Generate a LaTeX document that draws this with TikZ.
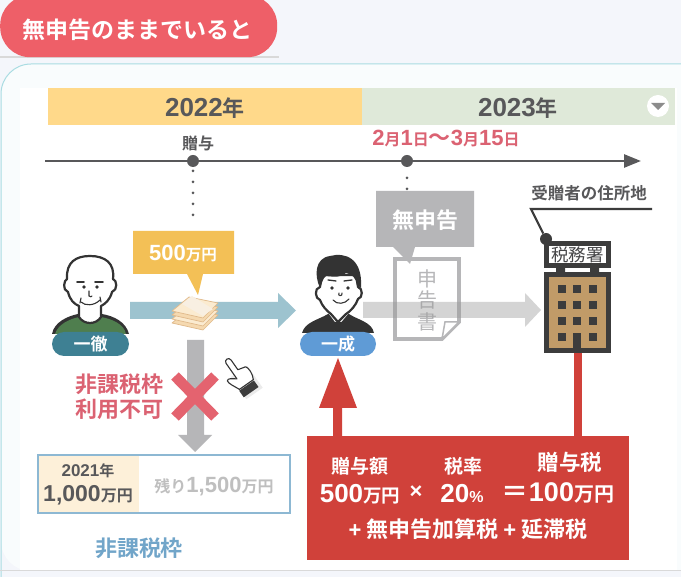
\documentclass[tikz,border=0pt]{standalone}
\usepackage{fontspec}
\setmainfont{Noto Sans CJK JP}[BoldFont={Noto Sans CJK JP Bold}]
\newfontfamily\dg{Liberation Sans}
\usetikzlibrary{arrows.meta,shapes.geometric}
\definecolor{pagebg}{HTML}{F4F6FB}
\definecolor{cardbg}{HTML}{F9FCFD}
\definecolor{cardline}{HTML}{A9DCE2}
\definecolor{pill}{HTML}{EE5F68}
\definecolor{yband}{HTML}{FFD98A}
\definecolor{gband}{HTML}{DFE9D9}
\definecolor{dk}{HTML}{58585A}
\definecolor{rosetxt}{HTML}{DB6272}
\definecolor{callY}{HTML}{F3C056}
\definecolor{callG}{HTML}{B6B6B8}
\definecolor{teal1}{HTML}{9DC3CF}
\definecolor{boxblue}{HTML}{8DB8D3}
\definecolor{txtblue}{HTML}{71A5C9}
\definecolor{cream}{HTML}{FDF0D9}
\definecolor{redbox}{HTML}{D0413A}
\definecolor{xred}{HTML}{E4636F}
\definecolor{darkline}{HTML}{333333}
\definecolor{bld}{HTML}{C19B68}
\definecolor{bldk}{HTML}{3C3C3C}
\definecolor{shirt}{HTML}{4F7E4E}
\definecolor{ikpill}{HTML}{3E8093}
\definecolor{ispill}{HTML}{5F9BD6}
\definecolor{moneyA}{HTML}{F5D9B0}
\definecolor{moneyB}{HTML}{FBEBD0}
\definecolor{moneyL}{HTML}{E0B98A}
\definecolor{moneyC}{HTML}{F8EFE2}
\newcommand{\fz}[1]{\fontsize{#1}{#1}\selectfont}
\tikzset{
  lbl/.style={inner sep=0pt,font=\bfseries,text=dk},
  whitetxt/.style={inner sep=0pt,font=\bfseries,text=white},
  band/.style={inner sep=0pt,minimum height=37pt,anchor=north west},
  tick/.style={circle,fill=dk,inner sep=0pt,minimum size=12pt},
  dotty/.style={draw=dk,line width=3pt,line cap=round,dash pattern=on 0pt off 11pt},
  person/.style={draw=darkline,line width=2.2pt,fill=white,line join=round},
  face/.style={draw=darkline,line width=1.1pt,line cap=round},
  money/.style={draw=moneyL,line width=.7pt,line join=round},
}
\begin{document}
\begin{tikzpicture}[x=1pt,y=-1pt]
\useasboundingbox (0,0) rectangle (681,577);
% backgrounds
\fill[pagebg] (0,0) rectangle (681,577);
\fill[cardbg,rounded corners=30pt] (1,64) rectangle (720,571);
\draw[cardline,line width=1pt,rounded corners=30pt] (1,620) -- (1,64) -- (720,64);
\fill[white] (20,88) rectangle (677,570);
\draw[black!15,line width=1pt] (0,571) -- (681,571);
\fill[black!15] (0,56) rectangle (279,58);
% title
\node[fill=pill,rounded corners=30pt,minimum width=277pt,minimum height=62pt,anchor=north west,inner sep=0pt] (title) at (0,-5) {};
\node[whitetxt,font=\bfseries\fz{23}] (titletext) at (138,30) {無申告のままでいると};
% bands
\node[band,fill=yband,minimum width=314pt] (y22) at (48,88) {};
\node[band,fill=gband,minimum width=313pt] (y23) at (362,88) {};
\node[lbl,font=\bfseries\fz{26}] (y22t) at (205,108) {{\dg 2022}{\fz{22}年}};
\node[lbl,font=\bfseries\fz{26}] (y23t) at (518,108) {{\dg 2023}{\fz{22}年}};
\node[circle,fill=white,minimum size=22pt,inner sep=0pt] (menu) at (658,106) {};
\fill[black!45] (651,103) -- (665,103) -- (658,110) -- cycle;
% timeline
\coordinate (tlS) at (45,161);
\coordinate (tlE) at (641,161);
\draw[dk,line width=2.6pt,-{Triangle[length=17pt,width=13pt]}] (tlS) -- (tlE);
\node[tick] (t1) at (193,161) {};
\node[tick] (t2) at (407,161) {};
\node[lbl,font=\bfseries\fz{16}] (zoyo) at (198,143) {贈与};
\node[inner sep=0pt,font=\bfseries\fz{22},text=rosetxt] (dates) at (446,139) {{\dg 2}{\fz{16}月}{\dg 1}{\fz{16}日}〜{\dg 3}{\fz{16}月}{\dg 15}{\fz{16}日}};
\coordinate (d1) at (193,171);
\coordinate (d1e) at (193,226);
\coordinate (d2) at (407,178);
\coordinate (d2e) at (407,190);
\draw[dotty] (d1) -- (d1e);
\draw[dotty] (d2) -- (d2e);
% blue arrow
\fill[teal1] (130,302) -- (278,302) -- (278,293) -- (296,310.5) -- (278,328) -- (278,319) -- (130,319) -- cycle;
% yellow callout
\fill[callY] (133,231) -- (234,231) -- (234,274) -- (203,274) -- (198,295) -- (187,274) -- (133,274) -- cycle;
\node[whitetxt,font=\bfseries\fz{22}] (amt) at (183,254) {{\dg 500}{\fz{15.5}万円}};
% money
\filldraw[money,fill=moneyA] (172,323) -- (189,309) -- (218,315) -- (203,330) -- cycle;
\filldraw[money,fill=moneyB] (172,319) -- (189,305) -- (218,311) -- (203,326) -- cycle;
\filldraw[money,fill=moneyA] (172,315) -- (189,301) -- (218,307) -- (203,322) -- cycle;
\filldraw[money,fill=moneyB] (172,311) -- (189,297) -- (218,303) -- (203,318) -- cycle;
\fill[moneyC] (182,304) -- (192,296) -- (213,309) -- (203,316) -- cycle;
% person 1
\fill[darkline] (52,334) .. controls (54,322) and (68,316) .. (78,314) -- (102,314) .. controls (114,316) and (126,322) .. (129,334) -- cycle;
\fill[shirt] (55,334) .. controls (58,324) and (70,319) .. (79,317) .. controls (84,326) and (96,326) .. (101,317) .. controls (112,319) and (124,324) .. (126,334) -- cycle;
\draw[person] (68,292) .. controls (62,290) and (64,280) .. (67,279) .. controls (66,262) and (76,256) .. (90,256) .. controls (105,256) and (115,263) .. (113,279) .. controls (117,280) and (118,290) .. (112,292) .. controls (110,300) and (105,304) .. (101,306) -- (101,317) .. controls (96,325) and (84,325) .. (79,317) -- (79,306) .. controls (74,304) and (70,300) .. (68,292) -- cycle;
\draw[face,line width=1.6pt] (77,282) -- (84,282);
\draw[face,line width=1.6pt] (95,282) -- (103,282);
\fill[darkline] (84,287) circle (1.8pt) (97,287) circle (1.8pt);
\draw[face] (89,291) -- (89,296) .. controls (90,297) and (92,297) .. (92,296);
\draw[face] (81,302) .. controls (85,306) and (94,306) .. (100,300);
\draw[face] (81,298) -- (80,303);
\draw[face] (100,297) -- (101,302);
\node[fill=ikpill,rounded corners=12pt,minimum width=77pt,minimum height=24pt,inner sep=0pt,text=white,font=\bfseries\fz{17}] (ikkan) at (90.5,344) {一徹};
% person 2
\fill[darkline] (302,333) .. controls (305,322) and (318,320) .. (328,314) -- (349,314) .. controls (358,320) and (372,322) .. (374,333) -- cycle;
\fill[white] (329,314) -- (338,326) -- (348,314) -- (346,306) -- (331,306) -- cycle;
\fill[darkline] (335,322) -- (342,322) -- (344,333) -- (333,333) -- cycle;
\draw[draw=darkline,line width=1.2pt] (328,318) -- (338,326) -- (349,318);
\draw[person] (320,287) .. controls (314,288) and (315,299) .. (320,300) .. controls (322,306) and (327,311) .. (331,314) -- (338,322) -- (346,314) .. controls (351,311) and (356,305) .. (358,299) .. controls (363,298) and (363,288) .. (358,287) -- (356,275) -- (322,275) -- cycle;
\fill[darkline] (320,288) .. controls (314,275) and (315,258) .. (330,256) .. controls (345,252) and (363,258) .. (361,288) -- (357,285) .. controls (356,278) and (352,274) .. (346,273) .. controls (338,279) and (330,276) .. (326,276) .. controls (323,278) and (322,283) .. (320,288) -- cycle;
\draw[face,line width=1.3pt] (328,280) -- (336,281);
\draw[face,line width=1.3pt] (344,281) -- (352,280);
\fill[darkline] (332,288) circle (1.9pt) (348,288) circle (1.9pt);
\draw[face] (339,293) .. controls (337,296) and (343,297) .. (342,293);
\draw[face] (333,300) .. controls (337,305) and (345,304) .. (349,299);
\node[fill=ispill,rounded corners=12pt,minimum width=76pt,minimum height=24pt,inner sep=0pt,text=white,font=\bfseries\fz{17}] (issei) at (338,344) {一成};
% document
\fill[white] (395,258) -- (459,258) -- (459,322) -- (442,339) -- (395,339) -- cycle;
\draw[callG,line width=3.6pt,line join=miter] (395,259) -- (459,259) -- (459,322) -- (442,339) -- (395,339) -- cycle;
\draw[callG,line width=1.5pt,fill=white] (459,322) -- (445,322) -- (442,339) -- cycle;
\node[inner sep=0pt,text=callG,font=\fz{20}] (s1) at (427,279) {申};
\node[inner sep=0pt,text=callG,font=\fz{20}] (s2) at (427,300) {告};
\node[inner sep=0pt,text=callG,font=\fz{20}] (s3) at (427,322) {書};
% grey arrow
\fill[black!40,opacity=.42] (363,302) -- (525,302) -- (525,293) -- (541,310) -- (525,327) -- (525,318) -- (363,318) -- cycle;
% grey callout
\fill[callG] (376,191) -- (474,191) -- (474,247) -- (415,247) -- (410,264) -- (393,247) -- (376,247) -- cycle;
\node[whitetxt,font=\bfseries\fz{22}] (mu) at (425,220) {無申告};
% building
\fill[redbox] (574,353) rectangle (582,437);
\node[anchor=north west,fill=bldk,minimum width=67pt,minimum height=27pt,inner sep=0pt] (sign) at (544,241) {};
\node[fill=white,minimum width=57pt,minimum height=17pt,inner sep=0pt,text=dk!80!black,font=\fz{17.5}] (signt) at (577.5,254.5) {税務署};
\fill[bldk] (556,268) rectangle (565,272) (590,268) rectangle (599,272);
\fill[bldk] (544,272) rectangle (611,353);
\fill[bld] (549,277) rectangle (606,348);
\foreach \yy in {289,305,321,337}{
  \fill[bldk] (558,{\yy-4}) rectangle +(8,8);
  \fill[bldk] (589,{\yy-4}) rectangle +(8,8);
}
\foreach \yy in {289,305,321}{\fill[bldk] (573,{\yy-4}) rectangle +(8,8);}
\fill[bldk] (573,333) rectangle (581,350);
% leader
\node[lbl,font=\bfseries\fz{16.5}] (addr) at (589,193) {受贈者の住所地};
\coordinate (la) at (652,209);
\coordinate (lb) at (531,209);
\node[tick,fill=bldk] (lc) at (546,239) {};
\draw[bldk,line width=2.2pt,line join=miter] (la) -- (lb) -- (lc);
% hand
\begin{scope}[shift={(240,378)},rotate=35]
\fill[black!8] (-7,-6) rectangle (13,21);
\draw[fill=white,draw=darkline,line width=1.1pt,line join=round] (-3,-20) .. controls (-3,-24) and (3,-24) .. (3,-20) -- (3,-8) -- (11,-6) .. controls (13,-4) and (13,4) .. (10,9) -- (-7,9) .. controls (-9,4) and (-13,-2) .. (-12,-5) .. controls (-10,-7) and (-7,-4) .. (-3,-1) -- cycle;
\fill[bldk] (-8,10) rectangle (10,18);
\end{scope}
% down arrow
\fill[callG] (187,340) -- (204,340) -- (204,435) -- (212,435) -- (195,452) -- (178,435) -- (187,435) -- cycle;
% X mark
\draw[xred,line width=10.5pt] (175,376) -- (215,417);
\draw[xred,line width=10.5pt] (215,376) -- (175,417);
\node[inner sep=0pt,text=rosetxt,font=\bfseries\fz{22}] (hk1) at (119,384) {非課税枠};
\node[inner sep=0pt,text=rosetxt,font=\bfseries\fz{22}] (hk2) at (119,409) {利用不可};
% allowance box
\fill[cream] (38,455) rectangle (139,513);
\draw[boxblue,line width=2.6pt] (38,455) rectangle (290,513);
\node[lbl,font=\bfseries\fz{17}] (yr21) at (88,471) {{\dg 2021}{\fz{15}年}};
\node[lbl,font=\bfseries\fz{23}] (k1000) at (88,495) {{\dg 1,000}{\fz{16}万円}};
\node[inner sep=0pt,text=black!25,font=\bfseries\fz{22}] (rest) at (214,487) {{\fz{16}残り}{\dg 1,500}{\fz{16}万円}};
\node[inner sep=0pt,text=txtblue,font=\bfseries\fz{22}] (hk3) at (139,548) {非課税枠};
% red box
\node[anchor=north west,fill=redbox,minimum width=322pt,minimum height=124pt,inner sep=0pt] (rb) at (307,436) {};
\fill[redbox] (333,437) -- (333,408) -- (319,408) -- (338,358) -- (357,408) -- (342,408) -- (342,437) -- cycle;
\node[whitetxt,font=\bfseries\fz{19}] (a1) at (360,466) {贈与額};
\node[whitetxt,font=\bfseries\fz{19}] (a2) at (463,466) {税率};
\node[whitetxt,font=\bfseries\fz{21.5}] (a3) at (570,462) {贈与税};
\node[whitetxt,font=\bfseries\fz{26}] (b1) at (360,494) {{\dg 500}{\fz{18.5}万円}};
\node[whitetxt,font=\bfseries\fz{22}] (b2) at (416,492) {\dg ×};
\node[whitetxt,font=\bfseries\fz{26}] (b3) at (462,494) {{\dg 20}{\fz{16}\dg\%}};
\node[whitetxt,font=\bfseries\fz{27}] (b4) at (558,493) {＝{\dg 100}{\fz{20}万円}};
\node[whitetxt,font=\bfseries\fz{22}] (c1) at (468,529) {{\dg +} 無申告加算税 {\dg +} 延滞税};
\end{tikzpicture}
\end{document}
